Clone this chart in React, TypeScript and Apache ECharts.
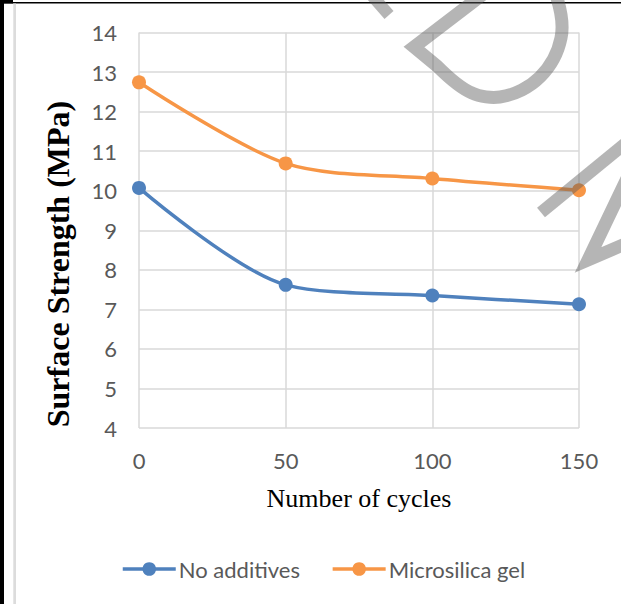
import React, { useEffect, useRef } from "react";
import * as echarts from "echarts";

// Freeze–thaw test results: surface strength after N cycles
const cycles = ["0", "50", "100", "150"];
const noAdditives = [10.07, 7.62, 7.35, 7.13];
const microsilicaGel = [12.74, 10.69, 10.31, 10.01];
const seriesNames = ["No additives", "Microsilica gel"];
const yTicks = { min: 4, max: 14, interval: 1 };

const BLUE = "#4F81BD";
const ORANGE = "#F79646";
const TICK_FONT = 'Lato, "Noto Sans", sans-serif';
const SERIF = '"Liberation Serif", "Times New Roman", serif';

// Stamp strokes drawn across the upper right corner
const stampD =
  "M482,-5 L414,47 L437,66 C446,75 460,88 472,93 C480,97 492,98 500,97 C515,95 530,87 540,77 C550,67 558,53 561,38 C564,24 561,10 556,-5";
const stampA = "M632,168 L588,260 L632,241";

echarts.graphic.registerShape("stampD", echarts.graphic.extendPath(stampD, {}));
echarts.graphic.registerShape("stampA", echarts.graphic.extendPath(stampA, {}));

const STAMP_GREY = "rgba(90,90,90,0.45)";
const stampStyle = {
  fill: null,
  stroke: STAMP_GREY,
  lineWidth: 13,
  lineJoin: "miter",
  lineCap: "butt",
};

export default function App() {
  const ref = useRef<HTMLDivElement>(null);

  useEffect(() => {
    document.body.style.margin = "0";
    const chart = echarts.init(ref.current!, null, { renderer: "svg" });

    const mkSeries = (name: string, data: number[], color: string) => ({
      name,
      type: "line",
      data,
      smooth: 0.3,
      symbol: "circle",
      symbolSize: 14,
      lineStyle: { color, width: 3.5 },
      itemStyle: { color },
      z: 2,
    });

    chart.setOption({
      animation: false,
      backgroundColor: "#ffffff",
      grid: { left: 139, right: 42, top: 32.5, bottom: 176, containLabel: false },
      xAxis: {
        type: "category",
        data: cycles,
        boundaryGap: false,
        axisLine: { show: false },
        axisTick: { show: false },
        axisLabel: {
          color: "#595959",
          fontFamily: TICK_FONT,
          fontSize: 22,
          margin: 21,
        },
        splitLine: { show: true, lineStyle: { color: "#d9d9d9", width: 1.5 } },
      },
      yAxis: {
        type: "value",
        min: yTicks.min,
        max: yTicks.max,
        interval: yTicks.interval,
        axisLine: { show: false },
        axisTick: { show: false },
        axisLabel: {
          color: "#595959",
          fontFamily: TICK_FONT,
          fontSize: 22,
          margin: 22,
        },
        splitLine: { show: true, lineStyle: { color: "#d9d9d9", width: 1.5 } },
      },
      legend: {
        data: seriesNames,
        left: 121,
        top: 558,
        padding: 0,
        itemWidth: 53,
        itemHeight: 17,
        itemGap: 31,
        lineStyle: { width: 3.5 },
        textStyle: { color: "#595959", fontFamily: TICK_FONT, fontSize: 22, padding: [0, 0, 0, -2] },
      },
      series: [
        mkSeries(seriesNames[0], noAdditives, BLUE),
        mkSeries(seriesNames[1], microsilicaGel, ORANGE),
      ],
      graphic: [
        // page frame
        { type: "rect", shape: { x: 0, y: 0, width: 4, height: 604 }, style: { fill: "#000" }, z: 10 },
        { type: "rect", shape: { x: 0, y: 0, width: 13, height: 3.4 }, style: { fill: "#000" }, z: 10 },
        { type: "rect", shape: { x: 0, y: 2, width: 621, height: 1.4 }, style: { fill: "#000" }, z: 10 },
        { type: "rect", shape: { x: 13.3, y: 3.4, width: 2.7, height: 601 }, style: { fill: "#dcdcdc" }, z: 10 },
        // axis titles
        {
          type: "text",
          x: 58,
          y: 264,
          rotation: Math.PI / 2,
          style: {
            text: "Surface Strength (MPa)",
            font: `bold 32px ${SERIF}`,
            fill: "#000",
            textAlign: "center",
            textVerticalAlign: "middle",
          },
          z: 10,
        },
        {
          type: "text",
          x: 359,
          y: 498,
          style: {
            text: "Number of cycles",
            font: `26px ${SERIF}`,
            fill: "#000",
            textAlign: "center",
            textVerticalAlign: "middle",
          },
          z: 10,
        },
        // stamp strokes
        { type: "line", shape: { x1: 368, y1: -9, x2: 389, y2: 15 }, style: { stroke: STAMP_GREY, lineWidth: 12 }, z: 20 },
        { type: "stampD", style: stampStyle, z: 20 },
        { type: "line", shape: { x1: 541, y1: 212.5, x2: 632, y2: 138 }, style: { stroke: STAMP_GREY, lineWidth: 12.5 }, z: 20 },
        { type: "stampA", style: stampStyle, z: 20 },
      ],
    });

    return () => chart.dispose();
  }, []);

  return <div ref={ref} style={{ width: 621, height: 604 }} />;
}
